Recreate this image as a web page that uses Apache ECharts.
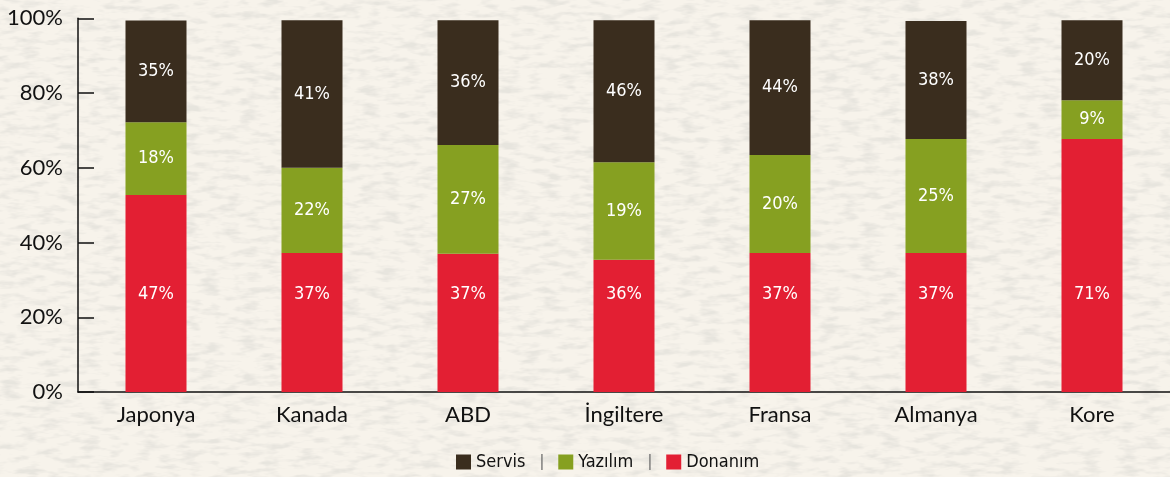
<!DOCTYPE html>
<html>
<head>
<meta charset="utf-8">
<script src="https://cdn.jsdelivr.net/npm/echarts@6/dist/echarts.min.js"></script>
<style>
  html, body { margin: 0; padding: 0; }
  body {
    width: 1170px; height: 477px; overflow: hidden;
    background-color: #f7f3eb;
    background-image: url("data:image/svg+xml,%3Csvg xmlns='http://www.w3.org/2000/svg' width='1170' height='477'%3E%3Cfilter id='n'%3E%3CfeTurbulence type='fractalNoise' baseFrequency='0.05 0.16' numOctaves='3' seed='7'/%3E%3CfeColorMatrix values='0 0 0 0 0.80 0 0 0 0 0.78 0 0 0 0 0.73 0 0 0 3 -1.35'/%3E%3C/filter%3E%3Crect width='100%25' height='100%25' filter='url(%23n)'/%3E%3C/svg%3E");
  }
  #chart { width: 1170px; height: 477px; }
</style>
</head>
<body>
<div id="chart"></div>
<script>
// ülkeler
const categories = ["Japonya", "Kanada", "ABD", "İngiltere", "Fransa", "Almanya", "Kore"];

// bar segment heights as drawn in the picture (%)
const donanim = [52.7, 37.2, 37.0, 35.4, 37.2, 37.2, 67.7];
const yazilim = [19.5, 22.8, 29.1, 26.1, 26.2, 30.5, 10.4];
const servis = [27.2, 39.5, 33.4, 38.0, 36.1, 31.6, 21.4];

// printed labels (%)
const donanimLabels = [47, 37, 37, 36, 37, 37, 71];
const yazilimLabels = [18, 22, 27, 19, 20, 25, 9];
const servisLabels = [35, 41, 36, 46, 44, 38, 20];

const yTicks = [0, 20, 40, 60, 80, 100];

const narrowFont = "'DejaVu Sans Condensed', 'Liberation Sans Narrow', Roboto, sans-serif";

const myChart = echarts.init(document.getElementById("chart"));

function segLabel(labels, extra) {
  return Object.assign({
    show: true,
    position: "inside",
    color: "#fff",
    fontFamily: narrowFont,
    fontSize: 18,
    formatter: p => labels[p.dataIndex] + "%"
  }, extra || {});
}

let option = {
  backgroundColor: "transparent",
  animation: false,
  grid: { left: 78, right: 0, top: 18.3, bottom: 85 },
  legend: {
    left: 451,
    top: 448,
    data: ["Servis", "Yazılım", "Donanım"],
    itemWidth: 15,
    itemHeight: 15,
    itemGap: 14,
    icon: "rect",
    formatter: name => name === "Donanım" ? "{n|" + name + "}" : "{n|" + name + "}{s||}",
    textStyle: {
      rich: {
        n: { fontFamily: narrowFont, fontSize: 18, color: "#111" },
        s: { fontFamily: narrowFont, fontSize: 16, color: "#666", padding: [0, 0, 0, 14] }
      }
    }
  },
  xAxis: {
    type: "category",
    data: categories,
    boundaryGap: true,
    axisLine: { lineStyle: { color: "#111", width: 1.5 } },
    axisTick: { inside: true, length: 8, lineStyle: { color: "#111", width: 1.5 } },
    axisLabel: { color: "#111", fontFamily: "Lato", fontSize: 22, margin: 12 }
  },
  yAxis: {
    type: "value",
    min: yTicks[0],
    max: yTicks[yTicks.length - 1],
    interval: 20,
    splitLine: { show: false },
    axisLine: { show: true, lineStyle: { color: "#111", width: 1.5 } },
    axisTick: { show: true, inside: true, length: 16, lineStyle: { color: "#111", width: 1.5 } },
    axisLabel: {
      color: "#111",
      fontFamily: "Lato",
      fontSize: 22,
      margin: 15,
      padding: [0, 0, 6, 0],
      formatter: "{value}%"
    }
  },
  series: [
    {
      name: "Donanım",
      type: "bar",
      stack: "total",
      barWidth: 61,
      data: donanim,
      itemStyle: { color: "#e31f33" },
      label: segLabel(donanimLabels, { position: "insideBottom", distance: 89 })
    },
    {
      name: "Yazılım",
      type: "bar",
      stack: "total",
      barWidth: 61,
      data: yazilim,
      itemStyle: { color: "#86a021" },
      label: segLabel(yazilimLabels)
    },
    {
      name: "Servis",
      type: "bar",
      stack: "total",
      barWidth: 61,
      data: servis,
      itemStyle: { color: "#3a2d1e" },
      label: segLabel(servisLabels)
    }
  ]
};

myChart.setOption(option);
</script>
</body>
</html>
